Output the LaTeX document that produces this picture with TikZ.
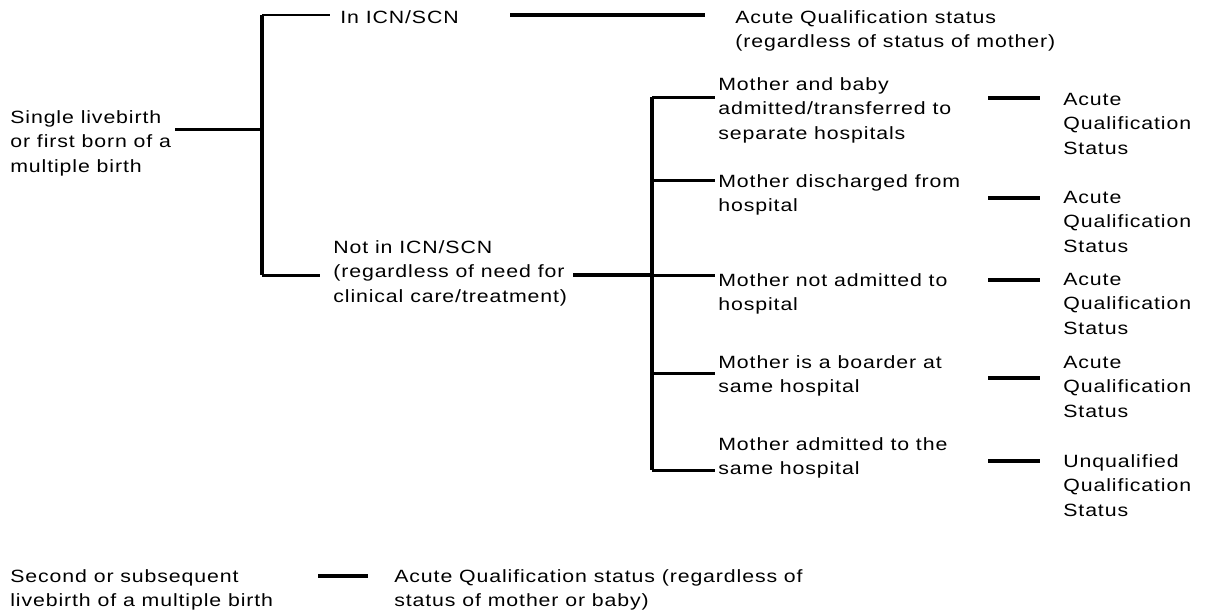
\documentclass[tikz,border=0pt]{standalone}
\usepackage{fontspec}
\setmainfont{Liberation Sans}[FakeStretch=1.2, LetterSpace=5]
\usepackage{tikz}

\begin{document}
\begin{tikzpicture}[
        x=0.02cm, y=-0.02cm,
        txt/.style = {anchor=base west, inner sep=0pt, align=left, font=\fontsize{10.1}{13.9}\selectfont},
        spine/.style = {draw=black, line width=2pt},
        branch/.style = {draw=black, line width=1.7pt},
        stub/.style = {draw=black, line width=2.3pt}
    ]
        \useasboundingbox (0,0) rectangle (1212,613);

        % Root (positions are the last baseline of each text)
        \node (single) [txt] at (10,172) {Single livebirth\\or first born of a\\multiple birth};

        % First level
        \node (inicn) [txt] at (340,23) {In ICN/SCN};
        \node (acuteTop) [txt] at (735,47.5) {Acute Qualification status\\(regardless of status of mother)};
        \node (notin) [txt] at (333,302) {Not in ICN/SCN\\(regardless of need for\\clinical care/treatment)};

        % Mother status
        \node (sepHosp) [txt] at (718,139) {Mother and baby\\admitted/transferred to\\separate hospitals};
        \node (discharged) [txt] at (718,211.5) {Mother discharged from\\hospital};
        \node (notAdmitted) [txt] at (718,310.5) {Mother not admitted to\\hospital};
        \node (boarder) [txt] at (718,392.5) {Mother is a boarder at\\same hospital};
        \node (sameHosp) [txt] at (718,474.5) {Mother admitted to the\\same hospital};

        % Outcomes
        \node (outSep) [txt] at (1063,154) {Acute\\Qualification\\Status};
        \node (outDis) [txt] at (1063,252) {Acute\\Qualification\\Status};
        \node (outNot) [txt] at (1063,334) {Acute\\Qualification\\Status};
        \node (outBrd) [txt] at (1063,417) {Acute\\Qualification\\Status};
        \node (outSame) [txt] at (1063,516) {Unqualified\\Qualification\\Status};

        % Second birth
        \node (second) [txt] at (10,606.5) {Second or subsequent\\livebirth of a multiple birth};
        \node (acuteLow) [txt] at (394,606.5) {Acute Qualification status (regardless of\\status of mother or baby)};

        % Junctions
        \coordinate (j1) at (262,129);
        \coordinate (j1top) at (262,15);
        \coordinate (j1bot) at (262,275);
        \coordinate (j2) at (652,275);
        \coordinate (j2top) at (652,97);
        \coordinate (j2dis) at (652,180);
        \coordinate (j2brd) at (652,373);
        \coordinate (j2bot) at (652,470);

        % Stub starts
        \coordinate (k0) at (510,15);
        \coordinate (k1) at (988,98);
        \coordinate (k2) at (988,198);
        \coordinate (k3) at (988,280);
        \coordinate (k4) at (988,378);
        \coordinate (k5) at (988,461);
        \coordinate (k6) at (318,576);

        % Tree from root
        \draw [branch, shorten <=0.08cm] (single.east |- j1) -- (j1);
        \draw [spine] (j1top) -- (j1bot);
        \draw [branch, shorten >=0.2cm] (j1top) -- (inicn.west |- j1top);
        \draw [stub, shorten >=0.6cm] (k0) -- (k0 -| acuteTop.west);
        \draw [branch, shorten >=0.26cm] (j1bot) -- (notin.west |- j1bot);

        % Not in ICN/SCN
        \draw [stub, shorten <=0.12cm] (notin.east |- j2) -- (j2);
        \draw [spine] (j2top) -- (j2bot);
        \draw [branch, shorten >=0.06cm] (j2top) -- (sepHosp.west |- j2top);
        \draw [branch, shorten >=0.06cm] (j2dis) -- (discharged.west |- j2dis);
        \draw [branch, shorten >=0.06cm] (j2) -- (notAdmitted.west |- j2);
        \draw [branch, shorten >=0.06cm] (j2brd) -- (boarder.west |- j2brd);
        \draw [branch, shorten >=0.06cm] (j2bot) -- (sameHosp.west |- j2bot);

        % Outcomes
        \draw [stub, shorten >=0.46cm] (k1) -- (k1 -| outSep.west);
        \draw [stub, shorten >=0.46cm] (k2) -- (k2 -| outDis.west);
        \draw [stub, shorten >=0.46cm] (k3) -- (k3 -| outNot.west);
        \draw [stub, shorten >=0.46cm] (k4) -- (k4 -| outBrd.west);
        \draw [stub, shorten >=0.46cm] (k5) -- (k5 -| outSame.west);

        % Second birth
        \draw [stub, shorten >=0.52cm] (k6) -- (k6 -| acuteLow.west);

    \end{tikzpicture}
\end{document}
